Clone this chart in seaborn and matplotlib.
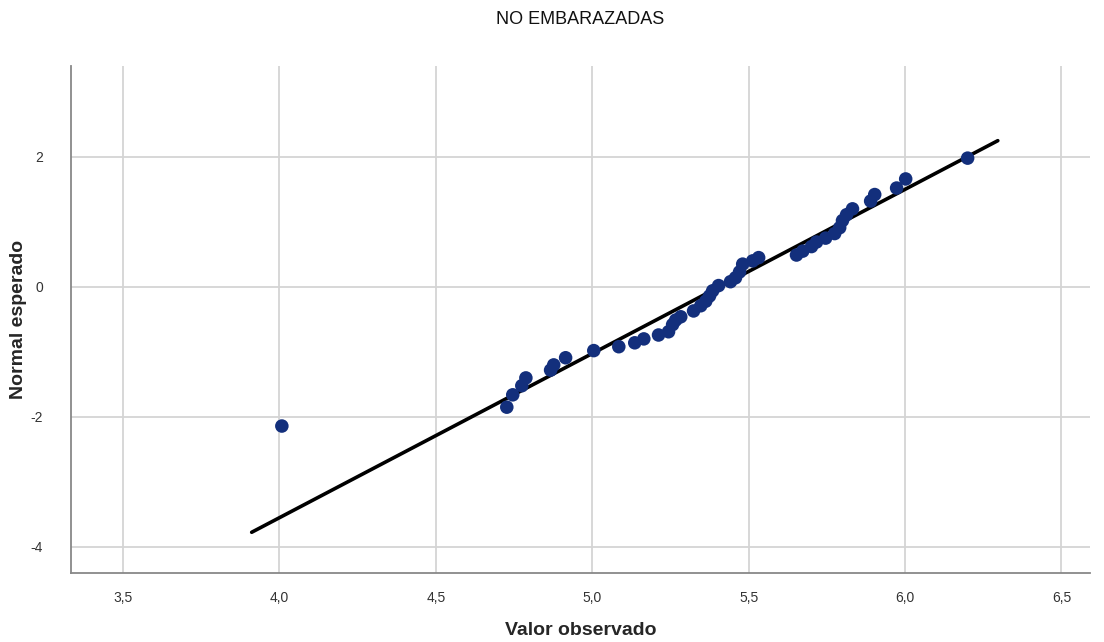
import numpy as np
import pandas as pd
import seaborn as sb
import matplotlib.pyplot as plt

valor_observado = [4.008, 4.727, 4.746, 4.775, 4.788, 4.867, 4.877, 4.915, 5.005, 5.085,
                   5.136, 5.165, 5.212, 5.244, 5.257, 5.267, 5.283, 5.324, 5.347, 5.363,
                   5.375, 5.385, 5.404, 5.442, 5.458, 5.471, 5.481, 5.513, 5.532, 5.653,
                   5.673, 5.701, 5.717, 5.746, 5.775, 5.791, 5.800, 5.813, 5.832, 5.890,
                   5.903, 5.973, 6.002, 6.200]
normal_esperado = [-2.14, -1.85, -1.66, -1.52, -1.40, -1.28, -1.20, -1.09, -0.98, -0.92,
                   -0.86, -0.80, -0.74, -0.69, -0.58, -0.51, -0.46, -0.37, -0.29, -0.22,
                   -0.14, -0.06, 0.02, 0.08, 0.14, 0.23, 0.35, 0.40, 0.45, 0.49,
                   0.55, 0.62, 0.69, 0.75, 0.82, 0.91, 1.02, 1.11, 1.20, 1.32,
                   1.42, 1.52, 1.66, 1.98]
# recta de referencia normal (media y desviacion)
media = 5.406
desv = 0.396

dados = pd.DataFrame({'obs': valor_observado, 'esp': normal_esperado})

sb.set_style('white')
plt.rcParams['font.family'] = ['Liberation Sans', 'DejaVu Sans']

fig = plt.figure(figsize=(11.04, 6.42), dpi=100)
ax = fig.add_axes([0.0643, 0.1075, 0.9227, 0.79])

# recta
rango = dados['obs'].max() - dados['obs'].min()
xl = np.array([dados['obs'].min() - 0.044 * rango, dados['obs'].max() + 0.044 * rango])
ax.plot(xl, (xl - media) / desv, color='black', linewidth=2.6, zorder=2)

# puntos
sb.scatterplot(data=dados, x='obs', y='esp', ax=ax, color='#132f7c', s=95,
               edgecolor='none', zorder=3)

ax.set_xlim(3.334, 6.59)
ax.set_ylim(-4.4, 3.4)
ax.set_xticks([3.5, 4.0, 4.5, 5.0, 5.5, 6.0, 6.5])
ax.set_xticklabels(['3,5', '4,0', '4,5', '5,0', '5,5', '6,0', '6,5'])
ax.set_yticks([-4, -2, 0, 2])
ax.set_yticklabels(['-4', '-2', '0', '2'])
ax.grid(True, color='#d4d4d4', linewidth=1.3)
ax.set_axisbelow(True)
ax.tick_params(axis='both', length=0, labelsize=10, colors='#333333')
ax.tick_params(axis='x', pad=13)
ax.tick_params(axis='y', pad=20)
for s in ['top', 'right']:
    ax.spines[s].set_visible(False)
for s in ['left', 'bottom']:
    ax.spines[s].set_color('#888888')
    ax.spines[s].set_linewidth(1.3)

plt.title('NO EMBARAZADAS', fontsize=13, pad=30, color='#111111')
plt.xlabel('Valor observado', fontsize=14, fontweight='bold', labelpad=12)
plt.ylabel('Normal esperado', fontsize=14, fontweight='bold', labelpad=3)

plt.savefig('out.png', dpi=100)
